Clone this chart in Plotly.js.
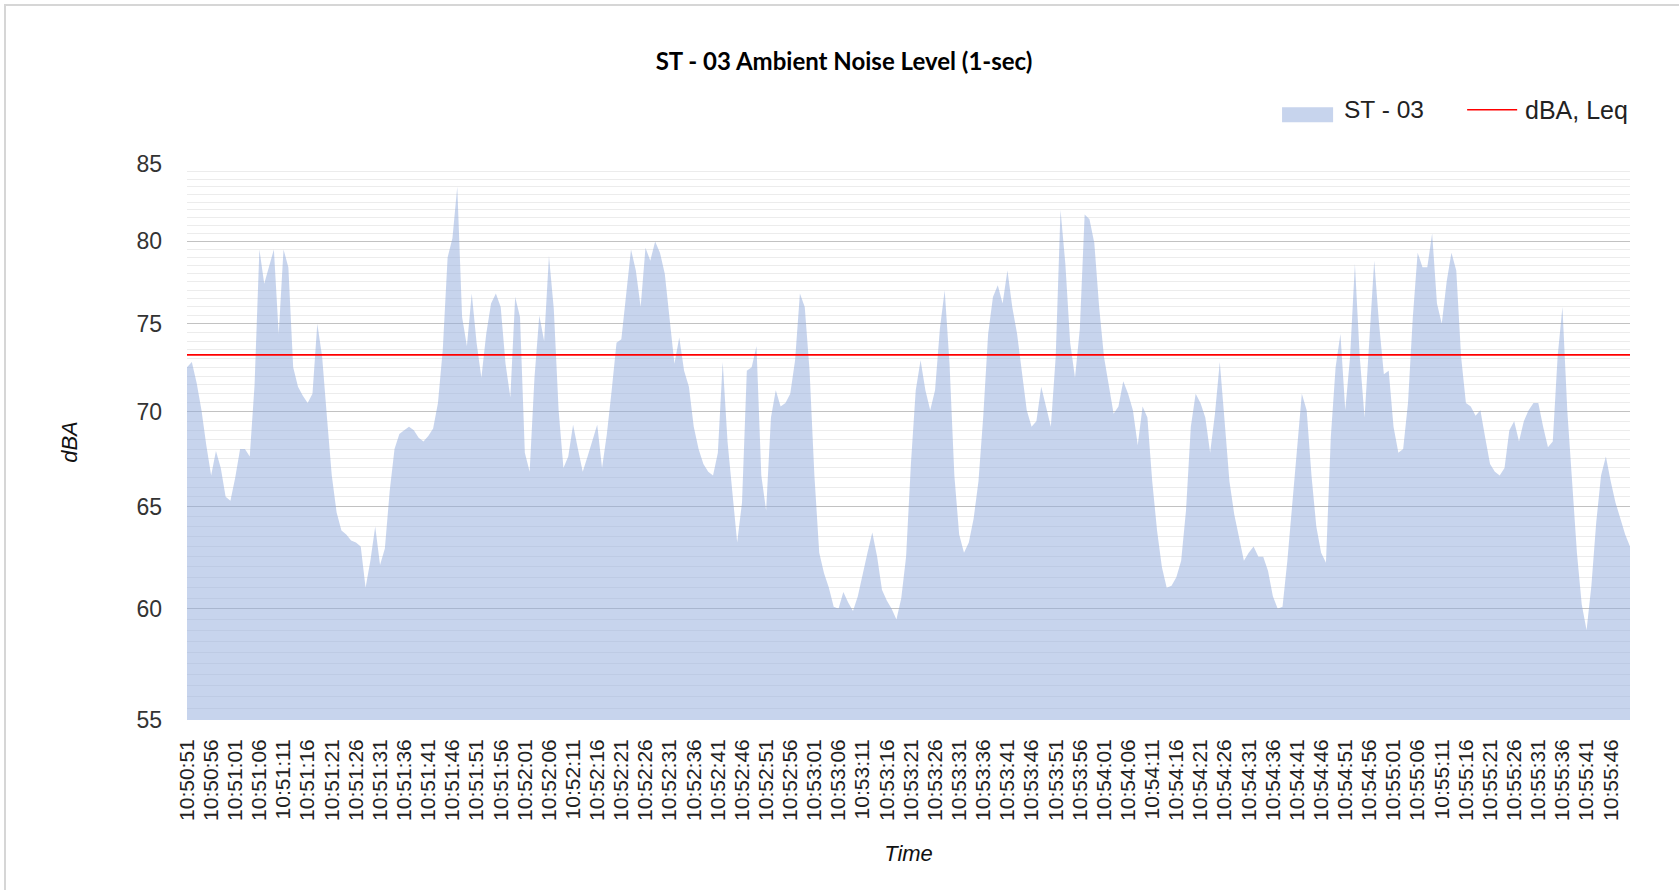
<!DOCTYPE html>
<html>
<head>
<meta charset="utf-8">
<script src="https://cdn.plot.ly/plotly-3.0.1.min.js"></script>
<style>
html,body{margin:0;padding:0;background:#fff;overflow:hidden}
#chart{position:absolute;left:0;top:0;width:1679px;height:890px}
#frame{position:absolute;left:4px;top:4px;width:1700px;height:900px;border-left:2px solid #d6d6d6;border-top:2px solid #d6d6d6;pointer-events:none}
</style>
</head>
<body>
<div id="chart"></div>
<div id="frame"></div>
<script>
// ---- data (1-second noise levels, dBA) ----
const startTime = "10:50:51";
const levels = [
72.5,72.8,71.6,70.1,68.2,66.6,67.9,67.0,65.5,65.3,
66.5,68.0,68.0,67.6,71.5,79.5,77.4,78.4,79.5,74.4,
79.5,78.4,72.5,71.4,70.9,70.5,71.0,75.0,73.1,69.7,
66.6,64.7,63.8,63.6,63.3,63.2,63.0,61.0,62.3,64.0,
62.1,62.9,65.8,68.0,68.8,69.0,69.2,69.0,68.6,68.4,
68.7,69.1,70.5,73.5,79.0,80.2,83.5,75.4,73.7,76.8,
73.9,71.9,74.4,76.2,76.8,76.0,72.7,70.8,76.6,75.4,
67.8,66.8,71.9,75.5,74.0,79.1,75.9,70.1,67.0,67.6,
69.3,68.0,66.8,67.6,68.4,69.3,67.0,68.8,71.2,73.9,
74.1,76.6,79.5,78.2,76.0,79.6,78.8,80.0,79.3,78.0,
75.1,72.7,74.2,72.3,71.4,69.2,68.0,67.2,66.8,66.6,
67.8,72.8,68.4,65.8,63.2,65.2,72.3,72.5,73.7,66.6,
64.8,69.7,71.2,70.3,70.5,71.0,72.9,76.8,76.0,72.3,
66.6,62.7,61.7,61.0,60.1,60.0,60.8,60.3,59.9,60.6,
61.7,62.7,63.7,62.5,60.9,60.4,60.0,59.5,60.5,62.5,
67.2,71.2,72.9,71.2,70.1,71.2,74.7,77.0,72.7,66.6,
63.6,62.7,63.2,64.4,66.3,69.8,74.4,76.6,77.3,76.2,
78.2,76.0,74.4,72.3,70.1,69.2,69.5,71.4,70.3,69.2,
73.1,82.0,78.6,73.9,71.9,74.7,81.7,81.4,79.9,76.0,
73.1,71.4,69.9,70.3,71.7,71.0,70.1,68.2,70.3,69.7,
66.3,63.8,62.0,61.0,61.1,61.5,62.3,64.8,69.2,71.0,
70.5,69.7,67.8,69.9,72.8,69.5,66.3,64.6,63.5,62.3,
62.7,63.0,62.5,62.5,61.8,60.6,60.0,60.1,62.3,65.0,
67.8,71.0,70.1,66.6,64.0,62.7,62.2,68.6,72.5,74.4,
70.1,73.1,78.6,73.1,69.7,73.9,78.8,75.0,72.1,72.3,
69.2,67.8,68.0,70.5,75.4,79.3,78.4,78.4,80.5,76.2,
75.0,77.5,79.3,78.2,73.1,70.5,70.3,69.8,70.1,68.6,
67.2,66.8,66.6,67.0,69.0,69.5,68.4,69.5,70.1,70.5,
70.5,69.2,68.1,68.4,73.1,76.0,70.1,66.3,62.7,60.2,
59.0,61.1,64.2,66.6,67.6,66.3,65.2,64.4,63.6,63.0
];
const leqLevel = 73.2;
const yTickVals = [55, 60, 65, 70, 75, 80, 85];
const seriesNames = ["ST - 03", "dBA, Leq"];

// time categories, one per second
function pad(n){ return String(n).padStart(2, "0"); }
const [h0, m0, s0] = startTime.split(":").map(Number);
const times = levels.map((_, i) => {
  const t = h0 * 3600 + m0 * 60 + s0 + i;
  return Math.floor(t / 3600) + ":" + pad(Math.floor(t / 60) % 60) + ":" + pad(t % 60);
});
const xTickLabels = times.filter((_, i) => i % 5 === 0);
const minorGrid = [];
for (let v = 55.5; v < 85; v += 0.5) { if (v % 5 !== 0) minorGrid.push(v); }

const areaColor = "rgba(143,170,220,0.5)";
const tickFont = "Liberation Sans, Arial, sans-serif";

const traces = [
  {
    x: times, y: levels, type: "scatter", mode: "lines",
    fill: "tozeroy", fillcolor: areaColor,
    line: { width: 0, color: "rgba(0,0,0,0)" },
    name: seriesNames[0], showlegend: false, hoverinfo: "x+y"
  },
  {
    x: [times[0], times[times.length - 1]], y: [leqLevel, leqLevel],
    type: "scatter", mode: "lines",
    line: { color: "#ff0000", width: 1.6 },
    name: seriesNames[1], showlegend: false
  }
];

// paper coords for the hand-built legend
const L = 187.4, R = 1629.8, T = 163.8, B = 719.6;
const px = X => (X - L) / (R - L);
const py = Y => (B - Y) / (B - T);

const layout = {
  width: 1679, height: 890,
  margin: { l: 187, r: 49, t: 164, b: 170, pad: 0 },
  paper_bgcolor: "#ffffff", plot_bgcolor: "#ffffff",
  showlegend: false,
  title: {
    text: "ST - 03 Ambient Noise Level (1-sec)",
    x: 844 / 1679, xanchor: "center", xref: "container",
    y: 1 - 62 / 890, yanchor: "middle", yref: "container",
    font: { family: "Lato, sans-serif", size: 24, weight: 700, color: "#000" }
  },
  xaxis: {
    type: "category", range: [0, times.length - 1],
    tickmode: "array", tickvals: xTickLabels, ticktext: xTickLabels,
    tickangle: -90, ticks: "", showgrid: false, zeroline: false, showline: false,
    ticklabelstandoff: 14,
    tickfont: { family: tickFont, size: 21, color: "#222" },
    title: { text: "Time", standoff: 25,
      font: { family: tickFont, size: 22, style: "italic", color: "#111" } }
  },
  yaxis: {
    type: "log", range: [Math.log10(55), Math.log10(85)],
    tickmode: "array", tickvals: yTickVals, ticktext: yTickVals.map(String),
    ticks: "", showgrid: true, gridcolor: "#c2c2c2", gridwidth: 1,
    zeroline: false, showline: false,
    minor: { tickmode: "array", tickvals: minorGrid, showgrid: true, gridcolor: "#ececec", gridwidth: 1, ticks: "" },
    ticklabelstandoff: 24,
    tickfont: { family: tickFont, size: 23, color: "#333" },
    title: { text: "dBA", standoff: 52,
      font: { family: tickFont, size: 22, style: "italic", color: "#111" } }
  },
  shapes: [
    { type: "rect", xref: "paper", yref: "paper",
      x0: px(1282), x1: px(1333), y0: py(122), y1: py(107),
      fillcolor: areaColor, line: { width: 0 } },
    { type: "line", xref: "paper", yref: "paper",
      x0: px(1467), x1: px(1517), y0: py(109.5), y1: py(109.5),
      line: { color: "#ff0000", width: 1.6 } }
  ],
  annotations: [
    { xref: "paper", yref: "paper", x: px(1342), y: py(109.5), xanchor: "left", yanchor: "middle",
      text: seriesNames[0], showarrow: false, font: { family: tickFont, size: 24.5, color: "#222" } },
    { xref: "paper", yref: "paper", x: px(1523), y: py(109.5), xanchor: "left", yanchor: "middle",
      text: seriesNames[1], showarrow: false, font: { family: tickFont, size: 25, color: "#222" } }
  ]
};

Plotly.newPlot("chart", traces, layout, { staticPlot: true, displayModeBar: false });
</script>
</body>
</html>
